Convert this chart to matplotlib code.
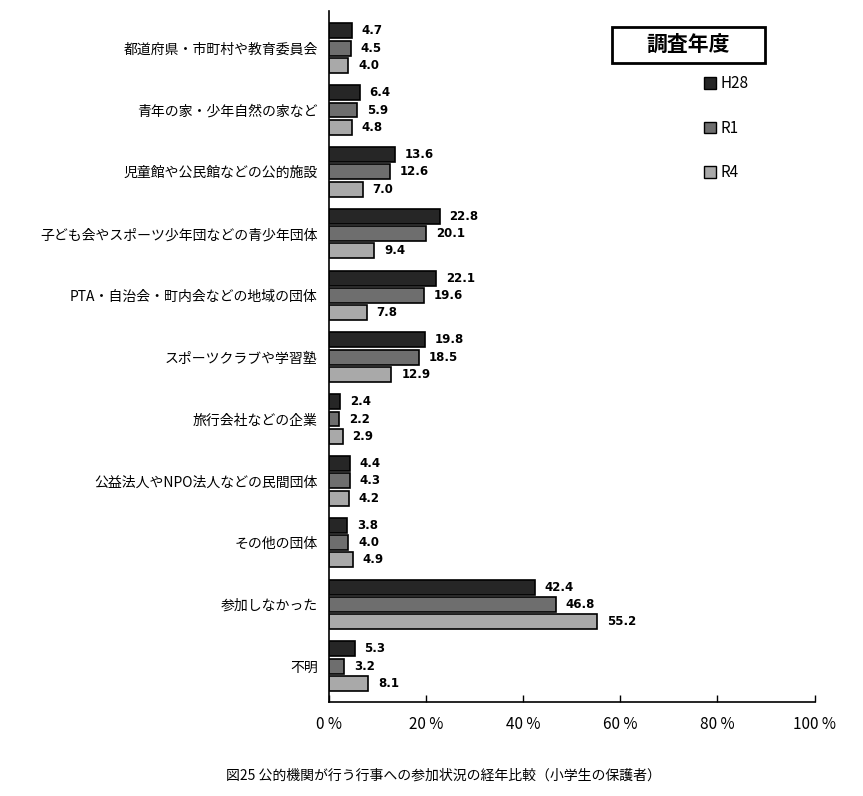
import numpy as np
import matplotlib
matplotlib.use("Agg")
import matplotlib.pyplot as plt
from matplotlib.patches import Patch, Rectangle

plt.rcParams['font.family'] = ['Noto Sans CJK JP', 'DejaVu Sans']

# data
categories = ["都道府県・市町村や教育委員会", "青年の家・少年自然の家など", "児童館や公民館などの公的施設",
              "子ども会やスポーツ少年団などの青少年団体", "PTA・自治会・町内会などの地域の団体",
              "スポーツクラブや学習塾", "旅行会社などの企業", "公益法人やNPO法人などの民間団体",
              "その他の団体", "参加しなかった", "不明"]
h28 = [4.7, 6.4, 13.6, 22.8, 22.1, 19.8, 2.4, 4.4, 3.8, 42.4, 5.3]
r1 = [4.5, 5.9, 12.6, 20.1, 19.6, 18.5, 2.2, 4.3, 4.0, 46.8, 3.2]
r4 = [4.0, 4.8, 7.0, 9.4, 7.8, 12.9, 2.9, 4.2, 4.9, 55.2, 8.1]
series_names = ["H28", "R1", "R4"]
colors = ["#262626", "#6e6e6e", "#a9a9a9"]
xticks = [0, 20, 40, 60, 80, 100]

fig = plt.figure(figsize=(8.63, 7.96), dpi=100)
ax = fig.add_axes([0.381, 0.118, 0.563, 0.868])

y = np.arange(len(categories))
bh = 0.28
for i, (vals, c) in enumerate(zip([h28, r1, r4], colors)):
    pos = y + (i - 1) * bh
    ax.barh(pos, vals, height=bh * 0.86, color=c, edgecolor="black", linewidth=1.2)
    for p, v in zip(pos, vals):
        ax.text(v + 2.0, p, f"{v:.1f}", va="center", ha="left", fontsize=8.5,
                fontweight="bold", family=["DejaVu Sans"])

ax.set_ylim(len(categories) - 0.5 + 0.08, -0.6)
ax.set_xlim(0, 100)
ax.set_yticks(y)
ax.set_yticklabels(categories, fontsize=10)
ax.tick_params(axis="y", length=0, pad=8)
ax.set_xticks(xticks)
ax.set_xticklabels([f"{t} %" for t in xticks], fontsize=11)
ax.tick_params(axis="x", direction="in", length=5, width=1, pad=10)
for s in ["top", "right"]:
    ax.spines[s].set_visible(False)
ax.spines["left"].set_linewidth(1.2)
ax.spines["bottom"].set_linewidth(1.2)

# legend title box
fig.patches.append(Rectangle((0.709, 0.921), 0.177, 0.045, transform=fig.transFigure,
                             facecolor="white", edgecolor="black", linewidth=2))
fig.text(0.7975, 0.944, "調査年度", ha="center", va="center", fontsize=15, fontweight="bold")
handles = [Patch(facecolor=c, edgecolor="black", label=n) for c, n in zip(colors, series_names)]
fig.legend(handles=handles, loc="upper left", bbox_to_anchor=(0.80, 0.9225), frameon=False,
           fontsize=11, handlelength=0.8, handleheight=0.8, labelspacing=1.8, handletextpad=0.3)

fig.text(0.514, 0.026, "図25 公的機関が行う行事への参加状況の経年比較（小学生の保護者）",
         ha="center", va="center", fontsize=10)

fig.savefig("out.png", dpi=100)
